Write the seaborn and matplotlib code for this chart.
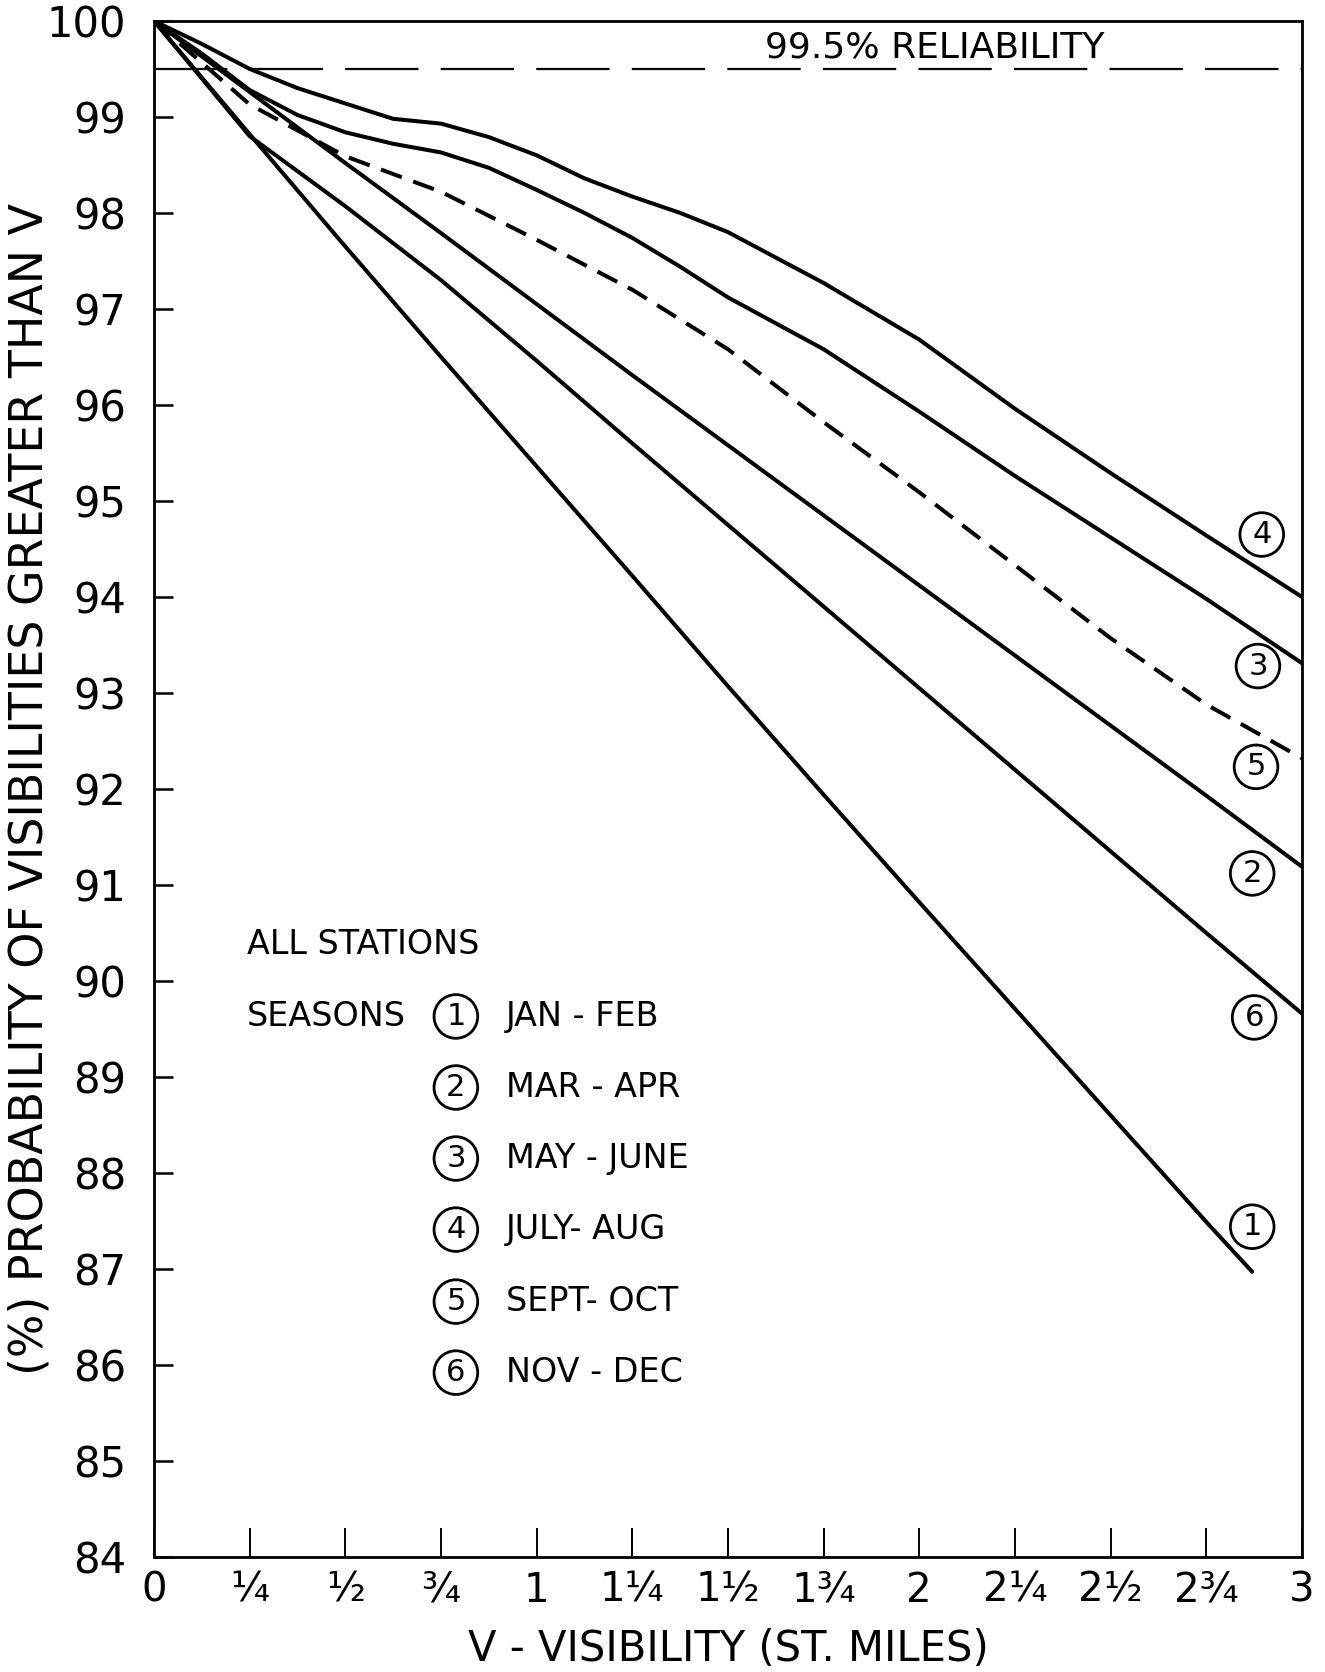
import pandas as pd
import matplotlib.pyplot as plt
import seaborn as sns

# Visibility steps (statute miles)
miles = [0, 0.25, 0.5, 0.75, 1.0, 1.25, 1.5, 1.75, 2.0, 2.25, 2.5, 2.75, 3.0]
# finer steps for the two upper curves, which bend around 3/4 mile
miles_fine = [0, 0.125, 0.25, 0.375, 0.5, 0.625, 0.75, 0.875, 1.0, 1.125,
              1.25, 1.375, 1.5, 1.75, 2.0, 2.25, 2.5, 2.75, 3.0]
miles_jan = [0, 0.25, 0.5, 0.75, 1.0, 1.25, 1.5, 1.75, 2.0, 2.25, 2.5, 2.75, 2.87]

# (%) probability of visibility greater than V
jan_feb = [100, 98.82, 97.65, 96.5, 95.36, 94.22, 93.07, 91.94, 90.82, 89.71, 88.6, 87.49, 86.97]
mar_apr = [100, 99.26, 98.52, 97.79, 97.05, 96.31, 95.58, 94.85, 94.12, 93.39, 92.66, 91.93, 91.19]
may_june = [100, 99.66, 99.28, 99.02, 98.84, 98.72, 98.63, 98.47, 98.24, 98.0,
            97.74, 97.44, 97.12, 96.58, 95.93, 95.26, 94.62, 93.98, 93.31]
july_aug = [100, 99.76, 99.5, 99.3, 99.14, 98.98, 98.93, 98.79, 98.6, 98.36,
            98.17, 98.0, 97.8, 97.27, 96.68, 95.96, 95.29, 94.64, 94.0]
sept_oct = [100, 99.13, 98.59, 98.22, 97.72, 97.2, 96.58, 95.82, 95.09, 94.33, 93.57, 92.88, 92.32]
nov_dec = [100, 98.8, 98.07, 97.3, 96.46, 95.6, 94.75, 93.9, 93.05, 92.2, 91.35, 90.5, 89.66]

season_names = ['JAN - FEB', 'MAR - APR', 'MAY - JUNE', 'JULY- AUG', 'SEPT- OCT', 'NOV - DEC']
season_x = [miles_jan, miles, miles_fine, miles_fine, miles, miles]
season_y = [jan_feb, mar_apr, may_june, july_aug, sept_oct, nov_dec]

# circled curve numbers at the right-hand end
tag_x = [2.87, 2.87, 2.885, 2.895, 2.88, 2.875]
tag_y = [87.44, 91.12, 93.28, 94.65, 92.23, 89.62]
# key rows
key_y = [89.63, 88.89, 88.15, 87.41, 86.66, 85.92]

x_ticks = [0, 0.25, 0.5, 0.75, 1, 1.25, 1.5, 1.75, 2, 2.25, 2.5, 2.75, 3]
x_labels = ['0', '¼', '½', '¾', '1', '1¼', '1½', '1¾', '2', '2¼', '2½', '2¾', '3']
y_ticks = list(range(84, 101))

reliability = 99.5


def build_frame():
    parts = []
    for name, xs, ys in zip(season_names, season_x, season_y):
        parts.append(pd.DataFrame({'miles': xs, 'pct': ys, 'season': name}))
    return pd.concat(parts, ignore_index=True)


def main():
    sns.set_theme(style='white')
    plt.rcParams['font.family'] = ['DejaVu Sans']
    plt.rcParams['text.color'] = 'black'
    plt.rcParams['axes.labelcolor'] = 'black'
    plt.rcParams['axes.edgecolor'] = 'black'
    plt.rcParams['xtick.color'] = 'black'
    plt.rcParams['ytick.color'] = 'black'

    df = build_frame()

    fig = plt.figure(figsize=(13.25, 16.72), dpi=100)
    ax = fig.add_axes([0.1162, 0.0688, 0.8664, 0.9187])

    ax.axhline(reliability, color='black', lw=1.6, ls=(0, (33, 10)), zorder=1)

    palette = {name: 'black' for name in season_names}
    dashes = {name: '' for name in season_names}
    dashes['SEPT- OCT'] = (5.5, 3)
    sns.lineplot(data=df, x='miles', y='pct', hue='season', style='season',
                 palette=palette, dashes=dashes, estimator=None, sort=False,
                 lw=2.9, legend=False, ax=ax, zorder=3)

    ax.set_xlim(0, 3)
    ax.set_ylim(84, 100)
    ax.set_xticks(x_ticks)
    ax.set_xticklabels(x_labels)
    ax.set_yticks(y_ticks)
    ax.set_yticklabels([str(t) for t in y_ticks])
    ax.tick_params(axis='x', bottom=True, direction='in', length=21, width=1.4,
                   labelsize=29, pad=10)
    ax.tick_params(axis='y', left=True, direction='in', length=14, width=1.8,
                   labelsize=30, pad=20)
    for side in ['left', 'right', 'top', 'bottom']:
        ax.spines[side].set_linewidth(2.0)
        ax.spines[side].set_color('black')

    ax.set_xlabel('V - VISIBILITY (ST. MILES)', fontsize=30)
    ax.xaxis.set_label_coords(0.5, -0.046)
    ax.set_ylabel('(%) PROBABILITY OF VISIBILITIES GREATER THAN V', fontsize=33)
    ax.yaxis.set_label_coords(-0.088, 0.5)

    ax.text(2.04, 99.72, '99.5% RELIABILITY', fontsize=26, ha='center', va='center')

    circle = dict(boxstyle='circle,pad=0.24', fc='none', ec='black', lw=2.0)
    for i, (tx, ty) in enumerate(zip(tag_x, tag_y)):
        ax.text(tx, ty, str(i + 1), fontsize=22, ha='center', va='center', bbox=circle)

    ax.text(0.243, 90.38, 'ALL STATIONS', fontsize=24, ha='left', va='center')
    ax.text(0.243, key_y[0], 'SEASONS', fontsize=24, ha='left', va='center')
    for i, (name, ky) in enumerate(zip(season_names, key_y)):
        ax.text(0.789, ky, str(i + 1), fontsize=22, ha='center', va='center', bbox=circle)
        ax.text(0.92, ky, name, fontsize=24, ha='left', va='center')

    fig.savefig('out.png', dpi=100)
    plt.close(fig)


if __name__ == '__main__':
    main()
